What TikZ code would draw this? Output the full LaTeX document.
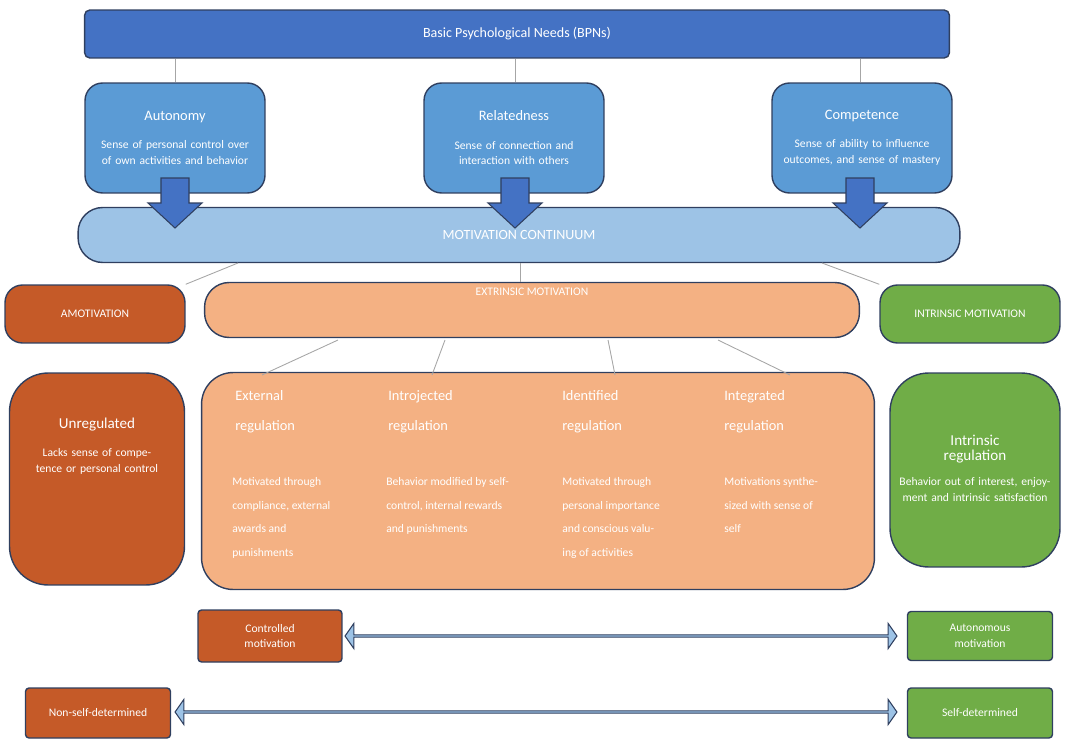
\documentclass[tikz,border=0pt]{standalone}
\usepackage{fontspec}
\setmainfont{Carlito}
\usetikzlibrary{shapes.arrows}
\definecolor{navy}{HTML}{2F3F5F}
\definecolor{bpnblue}{HTML}{4472C4}
\definecolor{needblue}{HTML}{5B9BD5}
\definecolor{contblue}{HTML}{9DC3E6}
\definecolor{amored}{HTML}{C55A28}
\definecolor{extorange}{HTML}{F4B183}
\definecolor{intgreen}{HTML}{70AD47}
\tikzset{
  box/.style={draw=navy,line width=0.8pt,rounded corners=10pt,text=white,align=center,inner sep=2pt},
  txt/.style={text=white,align=left,anchor=north west,inner sep=0pt,font=\fontsize{6.6}{13.5}\selectfont},
  head/.style={text=white,align=left,anchor=north west,inner sep=0pt,font=\fontsize{8.2}{17}\selectfont},
  link/.style={draw=gray!70,line width=0.5pt},
  twoway/.style={double arrow,draw=navy,fill=contblue,line width=0.6pt,minimum height=#1,minimum width=0.5cm,
    double arrow head extend=0.11cm,inner sep=0pt,double arrow tip angle=110},
}
\begin{document}
\begin{tikzpicture}[x=0.02cm,y=-0.02cm]
\useasboundingbox (0,0) rectangle (1068,750);
% needs
\node[box,fill=bpnblue,rounded corners=3pt,minimum width=17.3cm,minimum height=0.96cm,font=\fontsize{8}{10}\selectfont] (bpn) at (517,34) {Basic Psychological Needs (BPNs)};
\node[box,fill=needblue,minimum width=3.6cm,minimum height=2.2cm,text width=3.3cm,font=\fontsize{6.6}{9}\selectfont] (aut) at (175,138)
  {{\fontsize{8.2}{10}\selectfont Autonomy}\\[7pt]Sense of personal control over of own activities and behavior};
\node[box,fill=needblue,minimum width=3.6cm,minimum height=2.2cm,text width=3.3cm,font=\fontsize{6.6}{9}\selectfont] (rel) at (514,138)
  {{\fontsize{8.2}{10}\selectfont Relatedness}\\[7pt]Sense of connection and interaction with others\\[9pt]};
\node[box,fill=needblue,minimum width=3.6cm,minimum height=2.2cm,text width=3.3cm,font=\fontsize{6.6}{9}\selectfont] (com) at (862,138)
  {{\fontsize{8.2}{10}\selectfont Competence}\\[7pt]Sense of ability to influence outcomes, and sense of mastery};
\foreach \n/\x in {aut/175,rel/515,com/860}
  \draw[link] (bpn.south -| \x,0) -- (\n.north -| \x,0);
% continuum
\node[box,fill=contblue,rounded corners=14pt,minimum width=17.64cm,minimum height=1.1cm,font=\fontsize{8}{10}\selectfont] (cont) at (519,235) {MOTIVATION CONTINUUM};
\foreach \x in {175,515,860}
  \draw[navy,fill=bpnblue,line width=0.6pt] (\x-14,178) -- (\x+14,178) -- (\x+14,203) -- (\x+27,203)
    -- (\x,228) -- (\x-27,203) -- (\x-14,203) -- cycle;
% types
\node[box,fill=amored,minimum width=3.6cm,minimum height=1.16cm,font=\fontsize{6.6}{9}\selectfont] (amo) at (95,314) {AMOTIVATION};
\node[box,fill=extorange,rounded corners=14pt,minimum width=13.1cm,minimum height=1.1cm,font=\fontsize{6.6}{9}\selectfont] (ext) at (532,310) {EXTRINSIC MOTIVATION\\[12pt]};
\node[box,fill=intgreen,minimum width=3.6cm,minimum height=1.16cm,font=\fontsize{6.6}{9}\selectfont] (int) at (970,314) {INTRINSIC MOTIVATION};
\draw[link] (238,263) -- (amo.north east);
\draw[link] (520,263) -- (ext.north -| 520,0);
\draw[link] (822,263) -- (int.north west);
% regulation
\node[box,fill=amored,rounded corners=22pt,minimum width=3.5cm,minimum height=4.24cm] (unr) at (97,479) {};
\node[text=white,align=center,text width=3.1cm,font=\fontsize{6.6}{9}\selectfont] (unrt) at (97,446)
  {{\fontsize{8.6}{10}\selectfont Unregulated}\\[7pt]Lacks sense of competence or personal control};
\node[box,fill=extorange,rounded corners=18pt,minimum width=13.46cm,minimum height=4.34cm] (reg) at (538,481) {};
\node[box,fill=intgreen,rounded corners=22pt,minimum width=3.4cm,minimum height=3.88cm] (irg) at (975,470) {};
\node[text=white,align=center,text width=3.1cm,font=\fontsize{6.6}{9}\selectfont] (irgt) at (975,468)
  {{\fontsize{8.6}{11}\selectfont Intrinsic\\regulation}\\[5pt]Behavior out of interest, enjoyment and intrinsic satisfaction};
\node[head] (exh) at (235,390) {External\\regulation};
\node[head] (inh) at (388,390) {Introjected\\regulation};
\node[head] (idh) at (562,390) {Identified\\regulation};
\node[head] (igh) at (724,390) {Integrated\\regulation};
\node[txt] (ext1) at (232,477) {Motivated through\\compliance, external\\awards and\\punishments};
\node[txt] (int1) at (386,477) {Behavior modified by self-\\control, internal rewards\\and punishments};
\node[txt] (idt1) at (562,477) {Motivated through\\personal importance\\and conscious valu-\\ing of activities};
\node[txt] (igt1) at (724,477) {Motivations synthe-\\sized with sense of\\self};
\draw[link] (338,340) -- (262,375);
\draw[link] (445,340) -- (432,375);
\draw[link] (608,340) -- (615,375);
\draw[link] (718,340) -- (790,375);
% bottom scales
\node[box,fill=amored,rounded corners=2pt,minimum width=2.88cm,minimum height=1.04cm,font=\fontsize{6.6}{9}\selectfont] (ctl) at (270,636) {Controlled\\motivation};
\node[box,fill=intgreen,rounded corners=2pt,minimum width=2.9cm,minimum height=0.98cm,font=\fontsize{6.6}{9}\selectfont] (aum) at (980,636) {Autonomous\\motivation};
\node[box,fill=amored,rounded corners=2pt,minimum width=2.9cm,minimum height=1cm,font=\fontsize{6.6}{9}\selectfont] (nsd) at (98,713) {Non-self-determined};
\node[box,fill=intgreen,rounded corners=2pt,minimum width=2.9cm,minimum height=1cm,font=\fontsize{6.6}{9}\selectfont] (sdt) at (980,713) {Self-determined};
\node[twoway=11.04cm] (ar1) at (621,636) {};
\node[twoway=14.44cm] (ar2) at (536,712) {};
\end{tikzpicture}
\end{document}
